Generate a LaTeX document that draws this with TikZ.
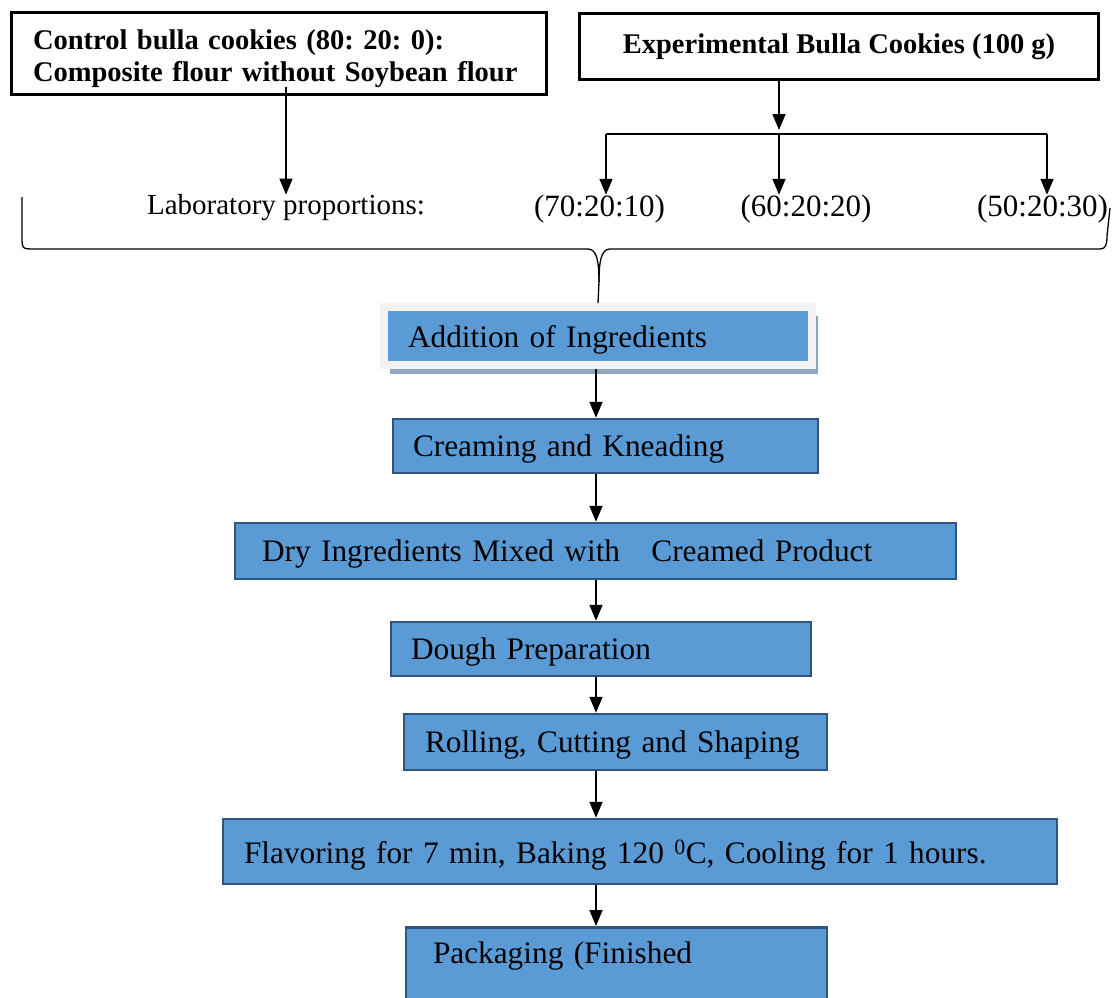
\documentclass[tikz,border=0pt]{standalone}
\usepackage{fontspec}
\setmainfont{Liberation Serif}
\usetikzlibrary{arrows.meta, shadows, calc}
\definecolor{StepBlue}{RGB}{91, 155, 213}
\definecolor{StepLine}{RGB}{47, 84, 130}
\definecolor{FrameGray}{RGB}{242, 242, 242}
\definecolor{ShadowBlue}{RGB}{143, 165, 192}
\frenchspacing

\begin{document}
\begin{tikzpicture}[x=1pt, y=-1pt,
    headbox/.style={draw=black, line width=3pt, font=\fontsize{28.5}{32}\selectfont\bfseries},
    stepbox/.style 2 args={draw=StepLine, fill=StepBlue, line width=2.5pt, inner xsep=#1,
        text width=#2, align=left, text depth=0pt, font=\fontsize{31.3}{36}\selectfont},
    flowline/.style={line width=1.6pt, -{Triangle[width=13pt, length=16pt]}},
    ratio/.style={font=\fontsize{31}{34}\selectfont, inner xsep=2pt, inner ysep=0pt}]

    \useasboundingbox (0,0) rectangle (1119,997);

    % Header boxes
    \node[headbox, inner xsep=21.5pt, text width=492pt, align=left, minimum height=82pt] (ctrl) at (279,53.5)
        {\rule{0pt}{31pt}Control bulla cookies (80: 20: 0):\\Composite flour without Soybean flour};
    \node[headbox, minimum width=519pt, minimum height=66pt] (expt) at (839,46.5)
        {Experimental Bulla Cookies (100 g)};

    % Proportions
    \node[ratio, font=\fontsize{29}{32}\selectfont] (lab) at (286,208) {Laboratory proportions:};
    \node[ratio] (r1) at (599.5,209) {(70:20:10)};
    \node[ratio] (r2) at (806,209) {(60:20:20)};
    \node[ratio] (r3) at (1042.5,209) {(50:20:30)};

    \draw[flowline] ([yshift=9pt]lab.north |- ctrl.south) -- (lab.north);

    \coordinate (split) at (779,134);
    \coordinate (b1) at (606,134);
    \coordinate (b3) at (1047,134);
    \draw[flowline] (expt.south -| split) -- ([yshift=4pt]split);
    \draw[line width=1.6pt] (b1) -- (b3);
    \draw[flowline] (b1) -- (b1 |- r1.north);
    \draw[flowline] (split) -- (split |- r2.north);
    \draw[flowline] (b3) -- (b3 |- r3.north);

    % Process steps
    \node[stepbox={24pt}{380pt}, draw=FrameGray, line width=8pt, minimum height=58pt,
        drop shadow={fill=ShadowBlue, opacity=1, shadow xshift=6pt, shadow yshift=-9pt}]
        (add) at (598,336) {Addition of Ingredients};
    \node[stepbox={20pt}{385pt}, minimum height=54pt] (cream) at (605.5,446) {Creaming and Kneading};
    \node[stepbox={27pt}{667pt}, minimum height=56pt] (dry) at (595.5,551)
        {Dry Ingredients Mixed with \ \ Creamed Product};
    \node[stepbox={20pt}{380pt}, minimum height=54pt] (dough) at (601,649) {Dough Preparation};
    \node[stepbox={21pt}{381pt}, minimum height=56pt] (roll) at (615.5,742) {Rolling, Cutting and Shaping};
    \node[stepbox={21pt}{792pt}, minimum height=65pt] (flav) at (640,851.5)
        {Flavoring for 7 min, Baking 120 \textsuperscript{0}C, Cooling for 1 hours.};
    \node[stepbox={27pt}{367pt}, anchor=north, inner ysep=15pt, text depth=52pt] (pack) at (616.5,926)
        {Packaging (Finished};

    % Brace joining the proportions
    \coordinate (tip) at (599,282);
    \draw[line width=1.3pt] (22,197) -- (22,236) .. controls (22,249) .. (35,249) -- (588,249)
        .. controls (597,249) and (599,262) .. (tip) -- (add.north);
    \draw[line width=1.3pt] (tip) .. controls (599,262) and (601,249) .. (610,249) -- (1100,249)
        .. controls (1106,249) and (1107,244) .. (1107,236) -- (1110,208);

    % Flow down the steps
    \coordinate (spine) at (596,0);
    \draw[flowline] (add.south -| spine) -- (cream.north -| spine);
    \draw[flowline] (cream.south -| spine) -- (dry.north -| spine);
    \draw[flowline] (dry.south -| spine) -- (dough.north -| spine);
    \draw[flowline] (dough.south -| spine) -- (roll.north -| spine);
    \draw[flowline] (roll.south -| spine) -- (flav.north -| spine);
    \draw[flowline] (flav.south -| spine) -- (pack.north -| spine);
\end{tikzpicture}
\end{document}
